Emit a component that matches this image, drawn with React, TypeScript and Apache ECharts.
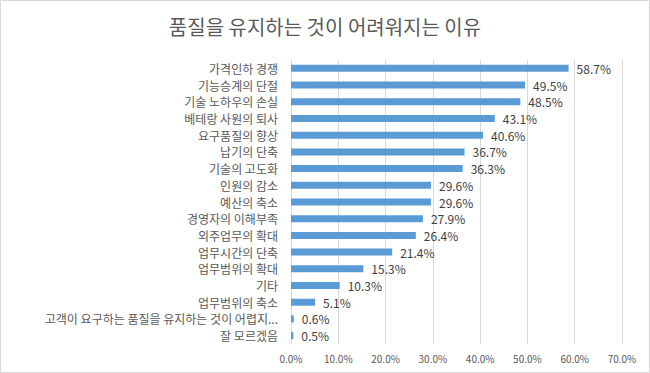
import React, { useEffect, useRef } from "react";
import * as echarts from "echarts";

const categories = [
  "가격인하 경쟁",
  "기능승계의 단절",
  "기술 노하우의 손실",
  "베테랑 사원의 퇴사",
  "요구품질의 향상",
  "납기의 단축",
  "기술의 고도화",
  "인원의 감소",
  "예산의 축소",
  "경영자의 이해부족",
  "외주업무의 확대",
  "업무시간의 단축",
  "업무범위의 확대",
  "기타",
  "업무범위의 축소",
  "고객이 요구하는 품질을 유지하는 것이 어렵지...",
  "잘 모르겠음",
];
const values = [58.7, 49.5, 48.5, 43.1, 40.6, 36.7, 36.3, 29.6, 29.6, 27.9, 26.4, 21.4, 15.3, 10.3, 5.1, 0.6, 0.5];
const xTicks = { min: 0, max: 70, interval: 10 };
const titleText = "품질을 유지하는 것이 어려워지는 이유";

const FONT = "'Noto Sans CJK KR', 'Noto Sans', sans-serif";

export default function App() {
  const ref = useRef<HTMLDivElement>(null);
  useEffect(() => {
    if (!ref.current) return;
    const chart = echarts.init(ref.current, undefined, { renderer: "svg" });
    chart.setOption({
      animation: false,
      backgroundColor: "#ffffff",
      title: {
        text: titleText,
        left: "center",
        top: 11,
        textStyle: { fontFamily: FONT, fontSize: 20, fontWeight: "normal", color: "#595959" },
      },
      grid: { left: 291, right: 28, top: 60, bottom: 29, containLabel: false },
      xAxis: {
        type: "value",
        min: xTicks.min,
        max: xTicks.max,
        interval: xTicks.interval,
        axisLine: { show: false },
        axisTick: { show: false },
        splitLine: { show: true, lineStyle: { color: "#d9d9d9", width: 1 } },
        axisLabel: {
          formatter: (v: number) => v.toFixed(1) + "%",
          fontFamily: FONT,
          fontSize: 10,
          color: "#595959",
          margin: 9,
        },
      },
      yAxis: {
        type: "category",
        data: categories,
        inverse: true,
        axisLine: { show: true, lineStyle: { color: "#d9d9d9" } },
        axisTick: { show: false },
        axisLabel: { interval: 0, fontFamily: FONT, fontSize: 12, color: "#595959", margin: 13 },
      },
      series: [
        {
          type: "bar",
          data: values,
          barWidth: 7,
          itemStyle: { color: "#5b9bd5" },
          label: {
            show: true,
            position: "right",
            distance: 8,
            formatter: (p: any) => p.value.toFixed(1) + "%",
            fontFamily: FONT,
            fontSize: 12,
            color: "#404040",
          },
        },
      ],
      graphic: [
        {
          type: "rect",
          shape: { x: 0.5, y: 0.5, width: 649, height: 372 },
          style: { fill: "none", stroke: "#d9d9d9", lineWidth: 1 },
          silent: true,
        },
      ],
    });
    return () => chart.dispose();
  }, []);
  return (
    <div
      ref={ref}
      style={{ position: "fixed", left: 0, top: 0, width: 650, height: 373 }}
    />
  );
}
